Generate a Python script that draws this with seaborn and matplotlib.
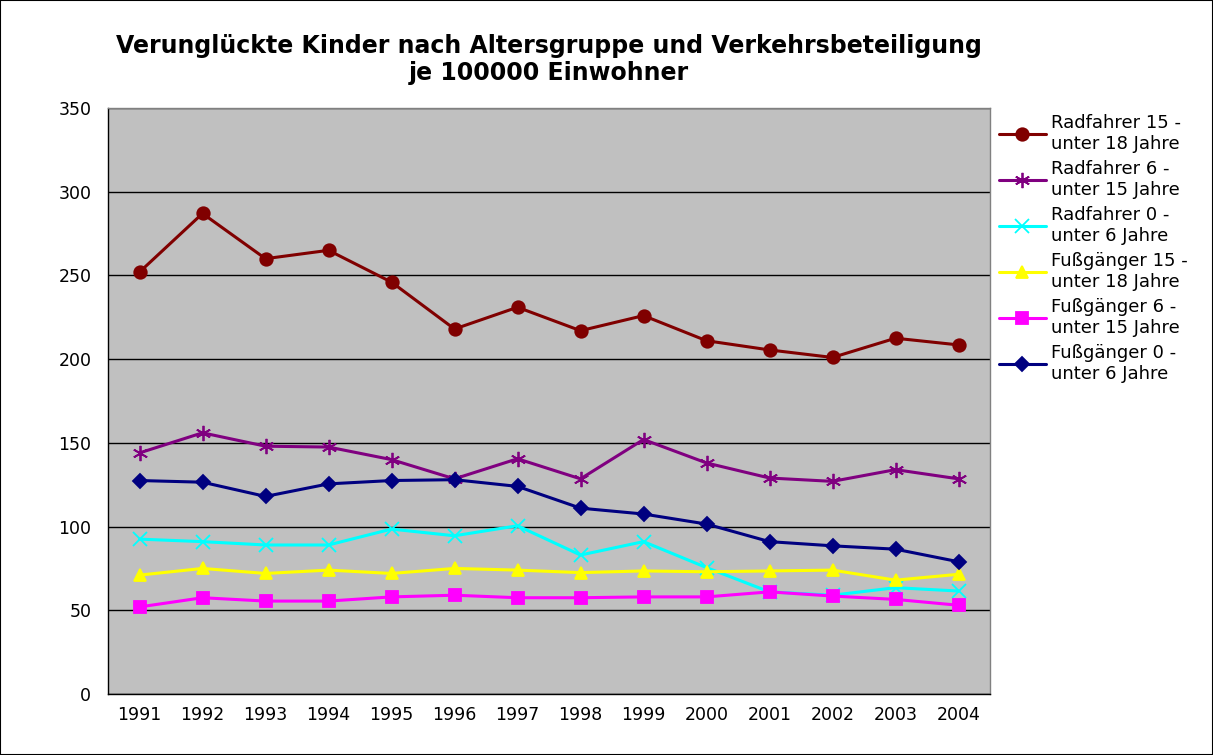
import pandas as pd
import matplotlib
matplotlib.use("Agg")
import matplotlib.pyplot as plt
import seaborn as sns
from matplotlib.patches import Rectangle

years = list(range(1991, 2005))

rad_15_18 = [252, 287, 260, 265, 246, 218, 231, 217, 226, 211, 205.5, 201, 212.5, 208.5]
rad_6_15 = [144, 156, 148, 147.5, 140, 128.5, 140.5, 128.5, 152, 138, 129, 127, 134, 128.5]
rad_0_6 = [92.5, 91, 89, 89, 98.5, 94.5, 100.5, 83, 91, 75.5, 61, 59, 63.5, 61.5]
fuss_15_18 = [71, 75, 72, 74, 72, 75, 74, 72.5, 73.5, 73, 73.5, 74, 68, 71.5]
fuss_6_15 = [52, 57.5, 55.5, 55.5, 58, 59, 57.5, 57.5, 58, 58, 61, 58.5, 56.5, 53]
fuss_0_6 = [127.5, 126.5, 118, 125.5, 127.5, 128, 124, 111, 107.5, 101.5, 91, 88.5, 86.5, 79]

labels = ["Radfahrer 15 -\nunter 18 Jahre", "Radfahrer 6 -\nunter 15 Jahre",
          "Radfahrer 0 -\nunter 6 Jahre", "Fußgänger 15 -\nunter 18 Jahre",
          "Fußgänger 6 -\nunter 15 Jahre", "Fußgänger 0 -\nunter 6 Jahre"]
series = [rad_15_18, rad_6_15, rad_0_6, fuss_15_18, fuss_6_15, fuss_0_6]
colors = ["#800000", "#800080", "#00FFFF", "#FFFF00", "#FF00FF", "#000080"]
markers = ["o", (6, 2, 0), "x", "^", "s", "D"]
msizes = [9, 11, 10, 9, 8, 7]

sns.set_style("white")
plt.rcParams["font.family"] = ["DejaVu Sans"]
plt.rcParams["text.color"] = "black"
plt.rcParams["xtick.color"] = "black"
plt.rcParams["ytick.color"] = "black"
plt.rcParams["axes.labelcolor"] = "black"

fig = plt.figure(figsize=(12.13, 7.55), dpi=100)
ax = fig.add_axes([108 / 1213, 1 - 694 / 755, (990 - 108) / 1213, (694 - 108) / 755])
ax.set_facecolor("#C0C0C0")

for lab, vals, c, m, ms in zip(labels, series, colors, markers, msizes):
    df = pd.DataFrame({"Jahr": years, "Wert": vals})
    sns.lineplot(data=df, x="Jahr", y="Wert", ax=ax, color=c, marker=m,
                 markersize=ms, linewidth=2.2, markeredgecolor=c,
                 markeredgewidth=1.3, label=lab)

ax.set_xlim(1990.5, 2004.5)
ax.set_ylim(0, 350)
ax.set_yticks(range(0, 351, 50))
ax.set_xticks(years)
ax.set_xticks([y + 0.5 for y in range(1990, 2005)], minor=True)
ax.tick_params(axis="x", which="major", length=0, labelsize=12.5, pad=9)
ax.tick_params(axis="x", which="minor", length=6, width=1, direction="out", color="black")
ax.tick_params(axis="y", length=6, width=1, direction="out", labelsize=12.5, pad=6, color="black")
ax.set_xlabel("")
ax.set_ylabel("")
ax.grid(axis="y", color="black", linewidth=1)
ax.set_axisbelow(True)
for s in ["left", "bottom"]:
    ax.spines[s].set_color("black")
    ax.spines[s].set_linewidth(1)
for s in ["top", "right"]:
    ax.spines[s].set_color("#808080")
    ax.spines[s].set_linewidth(1)

ax.set_title("Verunglückte Kinder nach Altersgruppe und Verkehrsbeteiligung\nje 100000 Einwohner",
             fontsize=17, fontweight="bold", pad=20, linespacing=1.15, color="black")

leg = ax.legend(loc="upper left", bbox_to_anchor=(1.002, 1.002), frameon=False,
                fontsize=13, handlelength=2.6, handletextpad=0.3,
                labelspacing=0.4, borderaxespad=0)
for t in leg.get_texts():
    t.set_linespacing(1.2)

fig.patches.append(Rectangle((0, 0), 1, 1, transform=fig.transFigure,
                             fill=False, edgecolor="black", linewidth=1.5))

fig.savefig("out.png", dpi=100)
